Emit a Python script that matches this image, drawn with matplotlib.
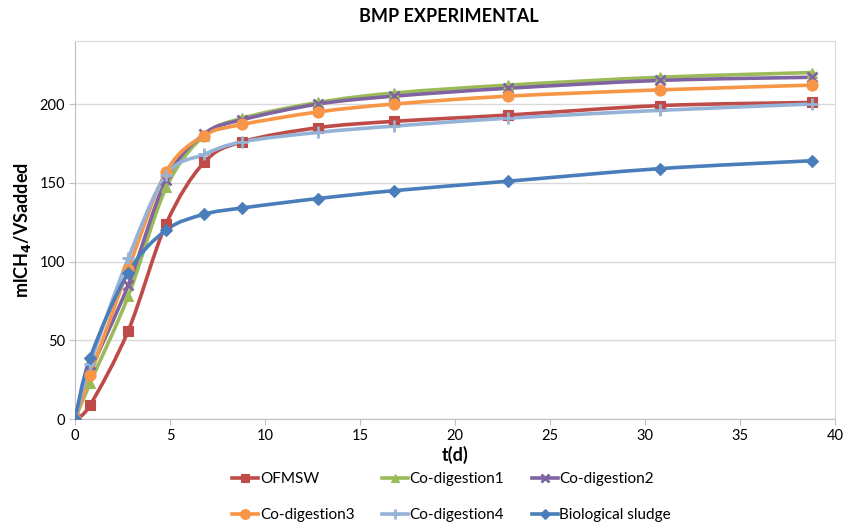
import matplotlib
matplotlib.use("Agg")
import matplotlib.pyplot as plt
import numpy as np
from matplotlib.path import Path
from matplotlib.patches import PathPatch
from matplotlib.lines import Line2D

plt.rcParams['font.family'] = ['Lato', 'DejaVu Sans']

t = [0, 0.8, 2.8, 4.8, 6.8, 8.8, 12.8, 16.8, 22.8, 30.8, 38.8]
ofmsw = [0, 9, 56, 124, 163, 176, 185, 189, 193, 199, 201]
co1 = [0, 23, 78, 147, 180, 191, 201, 207, 212, 217, 220]
co2 = [0, 30, 85, 152, 181, 190, 200, 205, 210, 215, 217]
co3 = [0, 28, 95, 157, 180, 187, 195, 200, 205, 209, 212]
co4 = [0, 35, 102, 155, 168, 176, 182, 186, 191, 196, 200]
bio = [0, 39, 93, 120, 130, 134, 140, 145, 151, 159, 164]

labels = ["OFMSW", "Co-digestion1", "Co-digestion2", "Co-digestion3", "Co-digestion4", "Biological sludge"]
series = [ofmsw, co1, co2, co3, co4, bio]
colors = ["#BE4B48", "#9BBB59", "#8064A2", "#F79646", "#95B3D7", "#4A7EBB"]
markers = ["s", "^", "x", "o", "+", "D"]
msizes = [7, 7, 7, 8, 8, 6]

fig = plt.figure(figsize=(8.43, 5.26), dpi=100)
ax = fig.add_axes([0.089, 0.2034, 0.9015, 0.7186])
ax.set_xlim(0, 40)
ax.set_ylim(0, 240)

sx, sy = 19.0, 1.575

def smooth_path(xs, ys):
    P = np.column_stack([np.array(xs) * sx, np.array(ys) * sy])
    n = len(P)
    verts = [P[0]]
    codes = [Path.MOVETO]
    for i in range(n - 1):
        p0 = P[i - 1] if i > 0 else P[i]
        p1 = P[i]
        p2 = P[i + 1]
        p3 = P[i + 2] if i + 2 < n else P[i + 1]
        c1 = p1 + (p2 - p0) / 6.0
        c2 = p2 - (p3 - p1) / 6.0
        verts += [c1, c2, p2]
        codes += [Path.CURVE4] * 3
    V = np.array(verts)
    V[:, 0] /= sx
    V[:, 1] /= sy
    return Path(V, codes)

order = [5, 4, 3, 2, 1, 0]
for i in order:
    ys = series[i]
    patch = PathPatch(smooth_path(t, ys), facecolor='none', edgecolor=colors[i], lw=2.6,
                      zorder=3 + i * 0.1, capstyle='round', joinstyle='round')
    ax.add_patch(patch)
    mew = 2 if markers[i] in ('x', '+') else 0.8
    ax.plot(t, ys, linestyle='none', marker=markers[i], color=colors[i], ms=msizes[i],
            mew=mew, mec=colors[i], zorder=4 + i * 0.1)

ax.set_xticks(range(0, 41, 5))
ax.set_yticks(range(0, 201, 50))
ax.yaxis.grid(True, color="#D9D9D9", lw=1)
ax.set_axisbelow(True)
for s in ['top', 'right']:
    ax.spines[s].set_color("#D9D9D9")
for s in ['left', 'bottom']:
    ax.spines[s].set_color("#BFBFBF")
ax.tick_params(axis='both', labelsize=10.5, length=4, color="#BFBFBF")
ax.tick_params(axis='y', length=4, pad=3)

fig.text(0.5326, 0.968, "BMP EXPERIMENTAL", fontsize=13, fontweight='bold',
         ha='center', va='center')
ax.set_ylabel("mlCH$_\\mathbf{4}$/VSadded", fontsize=13, fontweight='bold', labelpad=5)
ax.set_xlabel("t(d)", fontsize=13, fontweight='bold', labelpad=2)

handles = []
for i in range(6):
    mew = 2 if markers[i] in ('x', '+') else 0.8
    handles.append(Line2D([], [], color=colors[i], lw=2.6, marker=markers[i],
                          ms=msizes[i] - 1, mew=mew))
lo = [0, 3, 1, 4, 2, 5]
fig.legend([handles[k] for k in lo], [labels[k] for k in lo], loc='center',
           bbox_to_anchor=(0.5356, 0.055), ncol=3,
           frameon=False, fontsize=11, handlelength=1.7, handletextpad=0.1,
           columnspacing=1.8, labelspacing=1.45)

fig.savefig("out.png", dpi=100)
